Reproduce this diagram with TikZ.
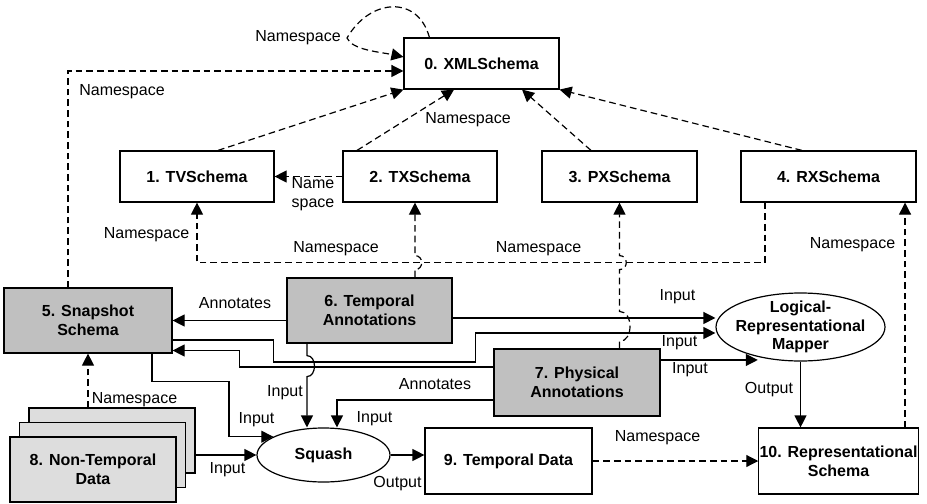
\documentclass[tikz,border=0pt]{standalone}
\usepackage{fontspec}
\setmainfont{Liberation Sans}
\usetikzlibrary{shapes.geometric,arrows.meta,positioning,calc}
\definecolor{annogray}{RGB}{192,192,192}
\definecolor{datagray}{RGB}{221,221,221}

\begin{document}
\begin{tikzpicture}[x=0.75pt, y=-0.75pt, line width=0.9pt, font=\fontsize{12}{14}\selectfont]
    \tikzstyle{schema} = [rectangle, draw, fill=white, font=\fontsize{12}{14}\selectfont\bfseries, align=center, inner sep=2pt, minimum height=38.25pt]
    \tikzstyle{anno} = [schema, fill=annogray, minimum height=48.75pt]
    \tikzstyle{datastack} = [schema, fill=datagray, minimum width=124.5pt, minimum height=48.75pt]
    \tikzstyle{proc} = [ellipse, draw, fill=white, font=\fontsize{12}{14}\selectfont\bfseries, align=center, inner xsep=-4pt, inner ysep=-2pt]
    \tikzstyle{lbl} = [inner sep=1pt, align=center]
    \tikzstyle{arr} = [draw, -{Triangle[length=9pt,width=9pt]}]
    \tikzstyle{ns} = [arr, dash pattern=on 5pt off 3pt]

    \useasboundingbox (0,0) rectangle (927,503);

    % schemas
    \node [schema, minimum width=116.25pt] (xml) at (481.5,63.5) {0. XMLSchema};
    \node [schema, minimum width=115.5pt] (tv) at (197,176.5) {1. TVSchema};
    \node [schema, minimum width=115.5pt] (tx) at (420,176.5) {2. TXSchema};
    \node [schema, minimum width=116.25pt] (px) at (619.5,176.5) {3. PXSchema};
    \node [schema, minimum width=131.25pt] (rx) at (828.5,176.5) {4. RXSchema};

    \node [anno, minimum width=126pt] (snap) at (88,320.5) {5. Snapshot\\Schema};
    \node [anno, minimum width=123.75pt] (tanno) at (369.5,310.5) {6. Temporal\\Annotations};
    \node [anno, minimum width=124.5pt, minimum height=50.25pt] (panno) at (577,382.5) {7. Physical\\Annotations};
    \node [proc, minimum width=126.75pt, minimum height=51pt] (mapper) at (800.5,327) {Logical-\\Representational\\Mapper};

    \node [datastack] (ntdback) at (112,440.5) {};
    \node [datastack] (ntdmid) at (102.5,455) {};
    \node [datastack] (ntd) at (93,469.5) {8. Non-Temporal\\Data};
    \node [proc, minimum width=99.75pt, minimum height=40.5pt] (squash) at (323.5,455) {Squash};
    \node [schema, minimum width=125.25pt, minimum height=49.5pt] (tdata) at (508.5,461) {9. Temporal Data};
    \node [schema, minimum width=117.75pt, minimum height=49.5pt, inner xsep=0.5pt] (rschema) at (838.5,461) {10. Representational\\Schema};

    % namespace links
    \path [ns] ([xshift=19.5pt]xml.north west) .. controls (418,-5) and (370,-2) .. (347,38)
        .. controls (352,50) and (380,52) .. ([yshift=4.9pt]xml.west);
    \path [ns] ([xshift=-15pt]snap.north) |- ([yshift=-5.6pt]xml.west);
    \path [ns] ([xshift=15.75pt]tv.north) -- (xml.south west);
    \path [ns] ([xshift=-47.25pt]tx.north) -- ([xshift=-20.6pt]xml.south);
    \path [ns] ([xshift=-21.4pt]px.north) -- ([xshift=30.4pt]xml.south);
    \path [ns] ([xshift=-19.9pt]rx.north) -- (xml.south east);
    \path [ns] (tx.west) -- (tv.east);

    \coordinate (bus) at ([xshift=-47.6pt, yshift=-45pt]rx.south);
    \path [ns] ([xshift=-47.6pt]rx.south) -- (bus) -| (tv.south);

    \coordinate (t6) at ([xshift=34.1pt]tanno.north);
    \path [ns] (t6) -- ($(t6 |- bus)+(0,7)$) .. controls +(9,0) and +(9,0) .. ($(t6 |- bus)+(0,-7)$) -- (t6 |- tx.south);

    \coordinate (t7) at (px.south |- panno.north);
    \path [ns] (t7) -- ($(t7)+(0,-7)$) .. controls +(14,0) and +(14,0) .. ($(t7)+(0,-37)$)
        -- ($(t7 |- bus)+(0,7)$) .. controls +(9,0) and +(9,0) .. ($(t7 |- bus)+(0,-7)$) -- (px.south);

    \path [ns] (snap.south |- ntdback.north) -- (snap.south);
    \path [ns] (tdata.east) -- (rschema.west);
    \coordinate (u10) at ([xshift=49.9pt]rschema.north);
    \path [ns] (u10) -- (u10 |- rx.south);

    % annotation and data flow
    \path [arr] (tanno.west |- snap.east) -- (snap.east);
    \coordinate (e6) at ([yshift=-5.6pt]tanno.east);
    \path [arr] (e6) -- (e6 -| mapper.west);
    \coordinate (o5) at ([yshift=-14.6pt]snap.east);
    \path [arr] (o5) -- ++(101,0) -- ++(0,22) -- ++(202,0) |- ([yshift=-4.5pt]mapper.west);
    \path [arr] ([yshift=11.6pt]panno.west) -- ++(-254,0) |- ([yshift=-22.5pt]snap.east);
    \path [arr] ([yshift=-13.1pt]panno.west) -| ([xshift=10.1pt]squash.north);
    \coordinate (e7) at ([yshift=16.9pt]panno.east);
    \path [arr] (e7) -- (e7 -| mapper.215);

    \coordinate (b6) at ([xshift=-46.9pt]tanno.south);
    \path [arr] (b6) -- ($(b6)+(0,12)$) .. controls +(10,0) and +(10,0) .. ($(b6)+(0,33)$) -- (b6 |- squash.north);
    \path [arr] ([xshift=48pt]snap.south) -- ++(0,28) -- ++(77,0) |- (squash.160);
    \path [arr] (squash.west -| ntdback.east) -- (squash.west);
    \path [arr] (squash.east) -- (squash.east -| tdata.west);
    \path [arr] (mapper.south) -- (mapper.south |- rschema.north);

    % labels
    \node [lbl] (lloop) at (298,38) {Namespace};
    \node [lbl] (lsnapxml) at (122,92) {Namespace};
    \node [lbl] (ltxxml) at (468,120) {Namespace};
    \node [lbl] (ltxtv) at (313,194) {Name\\space};
    \node [lbl] (lbustv) at (146.5,235) {Namespace};
    \node [lbl] (lbusa) at (336,249) {Namespace};
    \node [lbl] (lbusb) at (538.5,249) {Namespace};
    \node [lbl] (lrsrx) at (852.5,245) {Namespace};
    \node [lbl] (lannot) at (235,303) {Annotates};
    \node [lbl] (linta) at (677.5,297) {Input};
    \node [lbl] (lintb) at (679.5,343) {Input};
    \node [lbl] (lintc) at (690,370) {Input};
    \node [lbl] (lannop) at (435,384) {Annotates};
    \node [lbl] (lintd) at (374.5,419) {Input};
    \node [lbl] (linte) at (285,393) {Input};
    \node [lbl] (lintf) at (256.5,420) {Input};
    \node [lbl] (lintg) at (227.5,470) {Input};
    \node [lbl] (lntd) at (134.5,400) {Namespace};
    \node [lbl] (loutsq) at (397.5,484) {Output};
    \node [lbl] (ltdrs) at (657.5,438) {Namespace};
    \node [lbl] (loutmap) at (769,390) {Output};
\end{tikzpicture}
\end{document}
